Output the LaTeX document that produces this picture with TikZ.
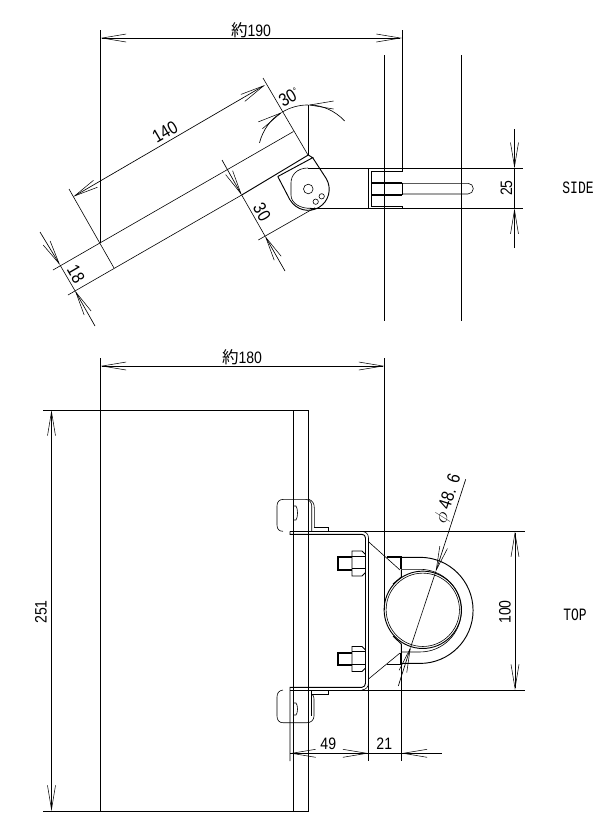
\documentclass[tikz,border=0pt]{standalone}
\usepackage{fontspec}
\setmainfont[FakeStretch=0.85]{Liberation Sans}
\newfontfamily\kanjifont{Noto Sans CJK JP}
\newfontfamily\tagfont[FakeStretch=0.75]{Liberation Mono}
\usetikzlibrary{arrows.meta}
\tikzset{
    part/.style = {
        line width=0.7pt,
        },
    hairline/.style = {
        line width=0.45pt,
        },
    heavy/.style = {
        line width=1.4pt,
        },
    dim/.style = {
        line width=0.5pt,
        arrows={Straight Barb[length=18pt,width=6pt,line width=0.4pt]-Straight Barb[length=18pt,width=6pt,line width=0.4pt]},
        },
    tip/.style = {
        line width=0.5pt,
        arrows={-Straight Barb[length=18pt,width=6pt,line width=0.4pt]},
        },
    size label/.style = {
        font=\fontsize{12.4}{14}\selectfont,
        inner sep=0pt,
        },
    slant label/.style = {
        font=\fontsize{13.6}{15}\selectfont,
        inner sep=0pt,
        },
    view label/.style = {
        font=\fontsize{13}{15}\tagfont,
        inner sep=0pt,
        }
}

\begin{document}
\begin{tikzpicture}[x=0.75pt,y=-0.75pt]
    \path[use as bounding box,fill=white] (0,0) rectangle (610,826);

    % side view
    \draw[part] (100.5,30) -- (100.5,243);
    \draw[part] (402,30) -- (402,168);
    \draw[part] (384.5,55) -- (384.5,321);
    \draw[part] (461.7,55) -- (461.7,321);
    \draw[dim] (100.5,38) -- (402,38);
    \node[size label] (width side) at (251,30) {{\kanjifont 約}190};

    % panel on its arm
    \draw[hairline] (53,270) -- (293.5,131.5);
    \draw[hairline] (68,295) -- (241.7,195);
    \draw[part] (241.7,195) -- (308.3,155) -- (312.7,157.7) -- (277.8,176.5);
    \draw[part] (277.8,176.5) -- (290,200);
    \draw[hairline] (69,189) -- (114,268);
    \draw[hairline] (263,78) -- (308,155);
    \draw[dim] (73.3,196.7) -- (265,85);
    \node[slant label,rotate=30] (length) at (165,132) {140};
    \draw[tip] (40,232) -- (60,265);
    \draw[tip] (95,326) -- (75,290.7);
    \draw[hairline] (60,265) -- (75,290.7);
    \node[slant label,rotate=-60] (thick) at (76,274) {18};
    \draw[tip] (222,160) -- (241.7,195);
    \draw[tip] (285,271) -- (265,236);
    \draw[hairline] (241.7,195) -- (265,236);
    \draw[hairline] (258.3,240) -- (315,207.7);
    \node[slant label,rotate=-60] (arm) at (262,212) {30};

    % angle
    \draw[part] (308,105) -- (308,155);
    \draw[tip] (259.5,142.9) arc[start angle=166,end angle=121,radius=37.5pt];
    \draw[tip] (344.6,120.9) arc[start angle=43,end angle=90,radius=37.5pt];
    \draw[hairline] (282.2,112.1) arc[start angle=121,end angle=90,radius=37.5pt];
    \node[slant label,rotate=30] (angle) at (289,97) {30\raisebox{0.55ex}{\fontsize{7}{8}\selectfont °}};

    % hinge
    \draw[part] (312.7,157.7) -- (326.2,178.5) arc[start angle=31,end angle=-149,radius=15.75pt];
    \draw[hairline] (308,168) .. controls (297,168) and (291,175) .. (291,183) -- (291,195) .. controls (291,203) and (300,209) .. (312,208.3);
    \draw[hairline] (308.3,189) circle[radius=3.6pt];
    \draw[hairline] (315.7,201.7) circle[radius=2pt];
    \draw[hairline] (321.7,196.3) circle[radius=2pt];

    % bracket and bolt, side
    \draw[part] (308,168) -- (523,168);
    \draw[part] (310,208.3) -- (523,208.3);
    \draw[part] (368.5,168) -- (368.5,208.3);
    \draw[part] (402,168) -- (402,171.5) -- (371,171.5) -- (371,206) -- (402,206) -- (402,208.3);
    \draw[heavy] (371,182.7) -- (402,182.7);
    \draw[heavy] (371,194.7) -- (402,194.7);
    \draw[part] (402,182.7) -- (402,194.7);
    \draw[hairline] (402,183.3) -- (468,183.3) arc[start angle=90,end angle=-90,radius=4pt] -- (402,194);
    \draw[tip] (514.5,129) -- (514.5,168.3);
    \draw[tip] (514.5,248) -- (514.5,208.3);
    \draw[part] (514.5,168.3) -- (514.5,208.3);
    \node[size label,rotate=90] (height side) at (506.5,188) {25};
    \node[view label] (side) at (578,188) {SIDE};

    % top view
    \draw[part] (100.5,358) -- (100.5,811);
    \draw[part] (384.5,358) -- (384.5,610);
    \draw[dim] (100.5,366) -- (384.5,366);
    \node[size label] (width top) at (242,357) {{\kanjifont 約}180};
    \draw[part] (43,410) -- (308.5,410);
    \draw[part] (43,811) -- (308.5,811);
    \draw[part] (293.5,410) -- (293.5,811);
    \draw[part] (308.5,410) -- (308.5,811);
    \draw[dim] (51.5,410) -- (51.5,811);
    \node[size label,rotate=90] (panel) at (41,612) {251};

    % channel
    \draw[part] (290,531.3) -- (525,531.3);
    \draw[part] (290,690) -- (525,690);
    \draw[part] (290,531.3) -- (290,534.3) -- (362,534.3) .. controls (364,534.3) and (365.5,536) .. (365.5,538) -- (365.5,683) .. controls (365.5,685.5) and (364,687.3) .. (362,687.3) -- (290,687.3) -- (290,761);
    \draw[hairline] (362,531.3) .. controls (366,531.8) and (368.5,534) .. (368.5,538);
    \draw[hairline] (368.5,683) .. controls (368.5,687) and (366,689.5) .. (362,690);
    \draw[part] (368.5,538) -- (368.5,761);

    % feet
    \draw[hairline] (311.7,531.3) -- (311.7,506) .. controls (311.7,502) and (309,499.3) .. (305,499.3) -- (284,499.3) .. controls (279,499.3) and (277,502) .. (277,506) -- (277,525) .. controls (277,529) and (279,531.3) .. (283,531.3);
    \draw[hairline] (314.3,527.3) -- (314.3,508) .. controls (314.3,504) and (313,501) .. (309,499.3);
    \draw[hairline] (314.3,527.3) -- (328.7,527.3) -- (328.7,531.3);
    \draw[hairline] (293.5,506) -- (296,506) .. controls (298,508) and (298,518) .. (296,520) -- (293.5,520);
    \draw[hairline] (312,694.3) -- (328.3,694.3) -- (328.3,690);
    \draw[hairline] (312,694.3) .. controls (313.5,695) and (314,697) .. (314,699) -- (314,716) .. controls (314,720) and (311,722.7) .. (307,722.7) -- (283,722.7) .. controls (279,722.7) and (277,720) .. (277,716) -- (277,697) .. controls (277,693) and (279,690.5) .. (283,690);
    \draw[hairline] (311,690) -- (311,716);
    \draw[hairline] (293.5,703) -- (296,703) .. controls (298,705) and (298,713) .. (296,715) -- (293.5,715);

    % bolts with nuts
    \foreach \ny in {563.5,659} {
        \draw[heavy] (352,\ny-6.3) -- (338,\ny-6.3) -- (338,\ny+6.3) -- (352,\ny+6.3);
        \draw[part] (352,\ny-12.5) -- (352,\ny+12.5) -- (362,\ny+12.5) -- (365.5,\ny+9) -- (365.5,\ny-9) -- (362,\ny-12.5) -- cycle;
        \draw[hairline] (352,\ny-7.5) -- (365.5,\ny-7.5);
        \draw[hairline] (352,\ny+5) -- (365.5,\ny+5);
    }

    % saddle, pipe, u-bolt
    \draw[hairline] (368.5,541.7) -- (400,570);
    \draw[hairline] (368.5,679) -- (400,653);
    \draw[heavy] (386.7,557.3) -- (401.3,557.3) -- (401.3,569.3);
    \draw[heavy] (386.7,664.5) -- (401.3,664.5) -- (401.3,653);
    \draw[part] (401.3,569.3) -- (401.3,577) -- (393,584);
    \draw[part] (401.3,653) -- (401.3,644) -- (393,636);
    \draw[part] (422.8,609.8) circle[radius=29pt];
    \draw[hairline] (422.8,609.8) circle[radius=27.5pt];
    \draw[part] (401.3,557.3) -- (420,557.3) arc[start angle=90,end angle=-90,radius=39.8pt] -- (401.3,663.4);
    \draw[hairline] (401.3,569.3) -- (420,569.3) arc[start angle=90,end angle=-90,radius=31pt] -- (401.3,652);
    \draw[part] (401.5,653) -- (401.5,761);
    \draw[dim] (515,531.3) -- (515,690);
    \node[size label,rotate=90] (height top) at (505,612) {100};
    \node[view label] (topview) at (575,615) {TOP};

    % pipe diameter
    \draw[tip] (465.7,479.3) -- (435.7,571.7);
    \draw[tip] (398.3,686) -- (410.7,647);
    \draw[hairline] (435.7,571.7) -- (410.7,647);
    \node[slant label,rotate=72] (pipe) at (448.5,499) {$\phi$\,48. 6};

    % lower sizes
    \draw[hairline] (290,753.3) -- (441.7,753.3);
    \draw[tip] (314,753.3) -- (290,753.3);
    \draw[tip] (344.3,753.3) -- (368.5,753.3);
    \draw[tip] (426,753.3) -- (401.5,753.3);
    \node[size label] (foot) at (328.3,744) {49};
    \node[size label] (offset) at (384.3,744) {21};
\end{tikzpicture}
\end{document}
